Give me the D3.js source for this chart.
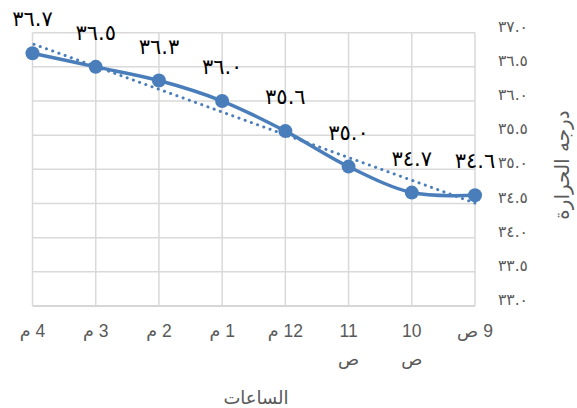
<!DOCTYPE html>
<html><head><meta charset="utf-8">
<script src="https://cdn.jsdelivr.net/npm/d3@7"></script>
<style>
html,body{margin:0;padding:0;background:#fff;}
svg{display:block;}
</style></head>
<body>
<svg id="chart" width="577" height="408"></svg>
<script>
// Data (time order: 9 AM -> 4 PM); axis is drawn right-to-left
const hours = ["9 ص", "10 ص", "11 ص", "12 م", "1 م", "2 م", "3 م", "4 م"];
const hourLines = [["9 ص"], ["10", "ص"], ["11", "ص"], ["12 م"], ["1 م"], ["2 م"], ["3 م"], ["4 م"]];
const temps = [34.62, 34.66, 35.04, 35.56, 36.0, 36.3, 36.5, 36.7];
const yTicks = [33.0, 33.5, 34.0, 34.5, 35.0, 35.5, 36.0, 36.5, 37.0];
const xTitle = "الساعات";
const yTitle = "درجه الحرارة";

const arDigits = "٠١٢٣٤٥٦٧٨٩";
const toAr = s => s.replace(/[0-9]/g, d => arDigits[+d]);
const fmt = v => toAr(d3.format(".1f")(v));

const svg = d3.select("#chart");
const L = 32.5, R = 475, T = 32.7, B = 306;
const x = d3.scalePoint().domain(hours).range([R, L]);
const y = d3.scaleLinear().domain([33, 37]).range([B, T]);
const blue = "#4a7ebb";
const grey = "#595959";

// Gridlines
const g = svg.append("g");
g.selectAll("line.h").data(yTicks).join("line")
  .attr("x1", L).attr("x2", R)
  .attr("y1", d => y(d)).attr("y2", d => y(d))
  .attr("stroke", d => d === 33 ? "#c8c8c8" : "#d9d9d9").attr("stroke-width", 1.5);
g.selectAll("line.v").data(hours).join("line")
  .attr("x1", d => x(d)).attr("x2", d => x(d))
  .attr("y1", T).attr("y2", B)
  .attr("stroke", "#d9d9d9").attr("stroke-width", 1.5);

// Y tick labels (right side)
svg.append("g").selectAll("text").data(yTicks).join("text")
  .attr("x", 498).attr("y", d => y(d) - 1)
  .attr("text-anchor", "start")
  .attr("font-family", "DejaVu Sans, sans-serif")
  .attr("font-size", 15.5).attr("fill", grey)
  .text(d => fmt(d));

// X tick labels
const xl = svg.append("g").selectAll("text").data(hours).join("text")
  .attr("x", d => x(d)).attr("y", 337)
  .attr("text-anchor", "middle")
  .attr("direction", "rtl")
  .attr("font-family", "Liberation Sans, DejaVu Sans, sans-serif")
  .attr("font-size", 17.5).attr("fill", grey);
xl.each(function(d, i) {
  const t = d3.select(this);
  hourLines[i].forEach((ln, j) => {
    t.append("tspan").attr("x", x(d)).attr("dy", j === 0 ? 0 : 28).text(ln);
  });
});

// Axis titles
svg.append("text").attr("x", 256).attr("y", 404)
  .attr("text-anchor", "middle").attr("font-family", "DejaVu Sans, sans-serif")
  .attr("font-size", 18).attr("fill", grey).text(xTitle);
svg.append("text")
  .attr("transform", `translate(569,165) rotate(-90)`)
  .attr("text-anchor", "middle").attr("font-family", "DejaVu Sans, sans-serif")
  .attr("font-size", 20).attr("fill", grey).text(yTitle);

// Linear trendline (least squares over category index)
const n = temps.length;
const xs = d3.range(n);
const mx = d3.mean(xs), my = d3.mean(temps);
const slope = d3.sum(xs, i => (i - mx) * (temps[i] - my)) / d3.sum(xs, i => (i - mx) ** 2);
const icpt = my - slope * mx;
svg.append("line")
  .attr("x1", x(hours[0])).attr("y1", y(icpt))
  .attr("x2", x(hours[n - 1])).attr("y2", y(icpt + slope * (n - 1)))
  .attr("stroke", blue).attr("stroke-width", 3)
  .attr("stroke-linecap", "round").attr("stroke-dasharray", "0.1 6.5");

// Smoothed series line
const line = d3.line().x((d, i) => x(hours[i])).y(d => y(d)).curve(d3.curveCatmullRom.alpha(0));
svg.append("path").datum(temps).attr("d", line)
  .attr("fill", "none").attr("stroke", blue).attr("stroke-width", 3.5);

// Markers
svg.append("g").selectAll("circle").data(temps).join("circle")
  .attr("cx", (d, i) => x(hours[i])).attr("cy", d => y(d)).attr("r", 7)
  .attr("fill", blue);

// Data labels
svg.append("g").selectAll("text").data(temps).join("text")
  .attr("x", (d, i) => x(hours[i])).attr("y", d => y(d) - 27)
  .attr("text-anchor", "middle")
  .attr("font-family", "DejaVu Sans, sans-serif")
  .attr("font-size", 21).attr("fill", "#000")
  .text(d => fmt(d));
</script>
</body></html>
